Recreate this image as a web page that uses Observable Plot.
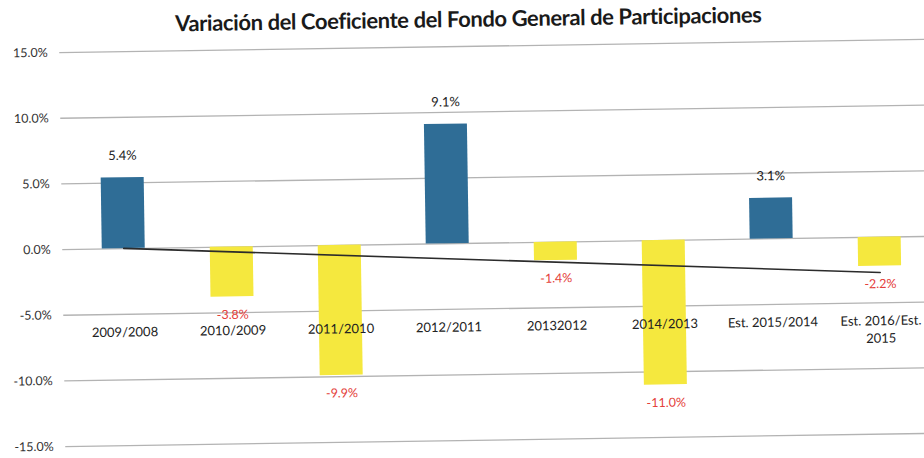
<!DOCTYPE html>
<html>
<head>
<meta charset="utf-8">
<script src="https://cdn.jsdelivr.net/npm/d3@7"></script>
<script src="https://cdn.jsdelivr.net/npm/@observablehq/plot@0.6"></script>
<style>
  html, body { margin: 0; padding: 0; background: #fff; overflow: hidden; width: 924px; height: 458px; }
  #wrap { width: 935px; height: 458px; transform: rotate(-0.87deg); transform-origin: 462px 229px; }
  #title { height: 36px; line-height: 38px; text-align: center; font-family: Lato, "Liberation Sans", sans-serif; font-weight: bold; font-size: 22px; color: #1a1a1a; padding-left: 8px; letter-spacing: -0.4px; }
  svg { display: block; }
</style>
</head>
<body>
<div id="wrap">
  <div id="title">Variación del Coeficiente del Fondo General de Participaciones</div>
  <div id="chart"></div>
</div>
<script>
const categories = ["2009/2008", "2010/2009", "2011/2010", "2012/2011", "20132012", "2014/2013", "Est. 2015/2014", "Est. 2016/Est. 2015"];
const xTickLabels = ["2009/2008", "2010/2009", "2011/2010", "2012/2011", "20132012", "2014/2013", "Est. 2015/2014", "Est. 2016/Est.\n2015"];
const values = [5.4, -3.8, -9.9, 9.1, -1.4, -11.0, 3.1, -2.2];
const yTicks = [-15, -10, -5, 0, 5, 10, 15];

const data = categories.map((c, i) => ({cat: c, value: values[i], label: values[i].toFixed(1) + "%", tick: xTickLabels[i]}));

// linear trend line (least squares over category index)
const n = values.length;
const xs = d3.range(n);
const mx = d3.mean(xs), my = d3.mean(values);
const slope = d3.sum(xs, i => (i - mx) * (values[i] - my)) / d3.sum(xs, i => (i - mx) ** 2);
const intercept = my - slope * mx;
const trend = [0, n - 1].map(i => ({cat: categories[i], value: intercept + slope * i}));

const font = 'Lato, "Liberation Sans", sans-serif';

const chart = Plot.plot({
  width: 935,
  height: 422,
  marginTop: 10,
  marginBottom: 18,
  marginLeft: 62,
  marginRight: 0,
  style: {fontFamily: font, background: "#fff"},
  x: {domain: categories, padding: 0, insetLeft: 5, axis: null},
  y: {domain: [-15, 15], label: null},
  marks: [
    Plot.gridY(yTicks, {stroke: "#b3b3b3", strokeOpacity: 1, strokeWidth: 1.3}),
    Plot.axisY(yTicks, {tickSize: 0, tickPadding: 12, tickFormat: d => d.toFixed(1) + "%", fontSize: 12.5, fill: "#333", label: null}),
    Plot.barY(data.filter(d => d.value >= 0), {x: "cat", y: "value", fill: "#2f6d96", insetLeft: 32.5, insetRight: 32.5}),
    Plot.barY(data.filter(d => d.value < 0), {x: "cat", y: "value", fill: "#f5e83e", insetLeft: 32.5, insetRight: 32.5}),
    Plot.line(trend, {x: "cat", y: "value", stroke: "#2b2b2b", strokeWidth: 1.6}),
    Plot.text(data.filter(d => d.value >= 0), {x: "cat", y: "value", text: "label", dy: -22, fontSize: 13, fill: "#222"}),
    Plot.text(data.filter(d => d.value < 0), {x: "cat", y: "value", text: "label", dy: 18, fontSize: 12.5, fill: "#e4403a"}),
    Plot.text(data, {x: "cat", y: () => -5.75, text: "tick", lineAnchor: "top", fontSize: 13, fill: "#222", lineHeight: 1.35})
  ]
});
document.getElementById("chart").appendChild(chart);
</script>
</body>
</html>
